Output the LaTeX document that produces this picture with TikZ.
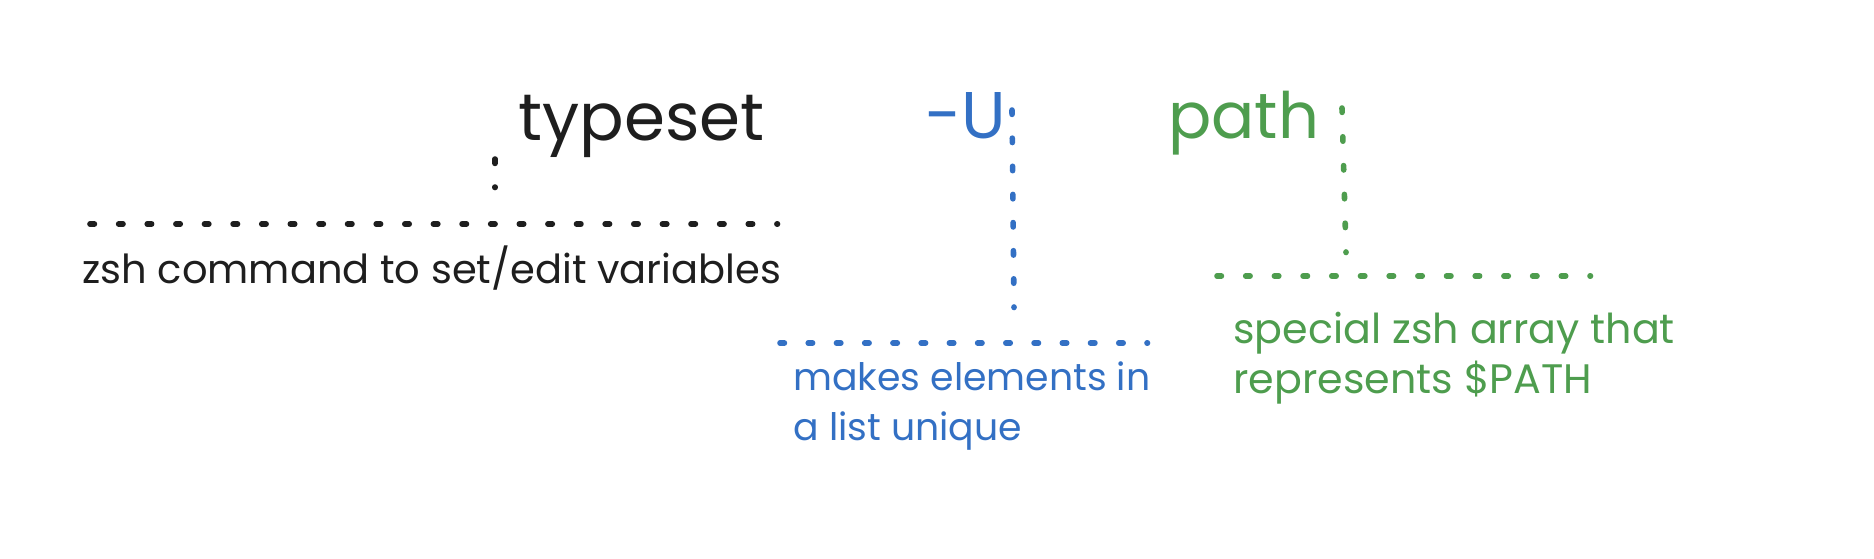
\documentclass[tikz,border=0pt]{standalone}
\usepackage{fontspec}
\setmainfont{Poppins}
\definecolor{inkblack}{HTML}{1E1E1E}
\definecolor{inkblue}{HTML}{3370C4}
\definecolor{inkgreen}{HTML}{4E9D4E}
\tikzset{
  dotline/.style={line width=2.8pt, line cap=round, dash pattern=on 2.2pt off #1},
  bigword/.style={inner sep=0pt, anchor=base west, font=\fontsize{33}{40}\selectfont},
  note/.style={inner sep=0pt, anchor=base west, align=left, font=\fontsize{20}{25}\selectfont},
}
\begin{document}
\begin{tikzpicture}[x=0.5pt, y=-0.5pt]
\useasboundingbox (0,0) rectangle (1874,558);
% black group
\node[bigword, text=inkblack] (typeset) at (518,140) {typeset};
\coordinate (tv1) at (495,159);
\coordinate (tv2) at (495,187.5);
\draw[dotline=11.8pt, inkblack] (tv1) -- (tv2);
\coordinate (th1) at (90,224);
\coordinate (th2) at (777.5,224);
\draw[dotline=12.11pt, inkblack] (th1) -- (th2);
\node[note, text=inkblack] (tdesc) at (82,283) {zsh command to set/edit variables};
% blue group
\node[bigword, text=inkblue] (flagU) at (925,138) {-U};
\coordinate (uv1) at (1012,110);
\coordinate (uv2) at (1014,307.5);
\draw[dotline=11.87pt, inkblue] (uv1) -- (uv2);
\coordinate (uh1) at (780,343);
\coordinate (uh2) at (1147.5,343);
\draw[dotline=11.915pt, inkblue] (uh1) -- (uh2);
\node[note, text=inkblue, font=\fontsize{18.9}{25}\selectfont] (udesc) at (793,440) {makes elements in\\a list unique};
% green group
\node[bigword, text=inkgreen, font=\fontsize{32}{40}\selectfont] (path) at (1168,138) {path};
\coordinate (pv1) at (1342,108);
\coordinate (pv2) at (1346,252.5);
\draw[dotline=12.2pt, inkgreen] (pv1) -- (pv2);
\coordinate (ph1) at (1217,276);
\coordinate (ph2) at (1590.5,276);
\draw[dotline=12.146pt, inkgreen] (ph1) -- (ph2);
\node[note, text=inkgreen, font=\fontsize{20.6}{25}\selectfont] (pdesc) at (1233,393) {special zsh array that\\represents \$PATH};
\end{tikzpicture}
\end{document}
